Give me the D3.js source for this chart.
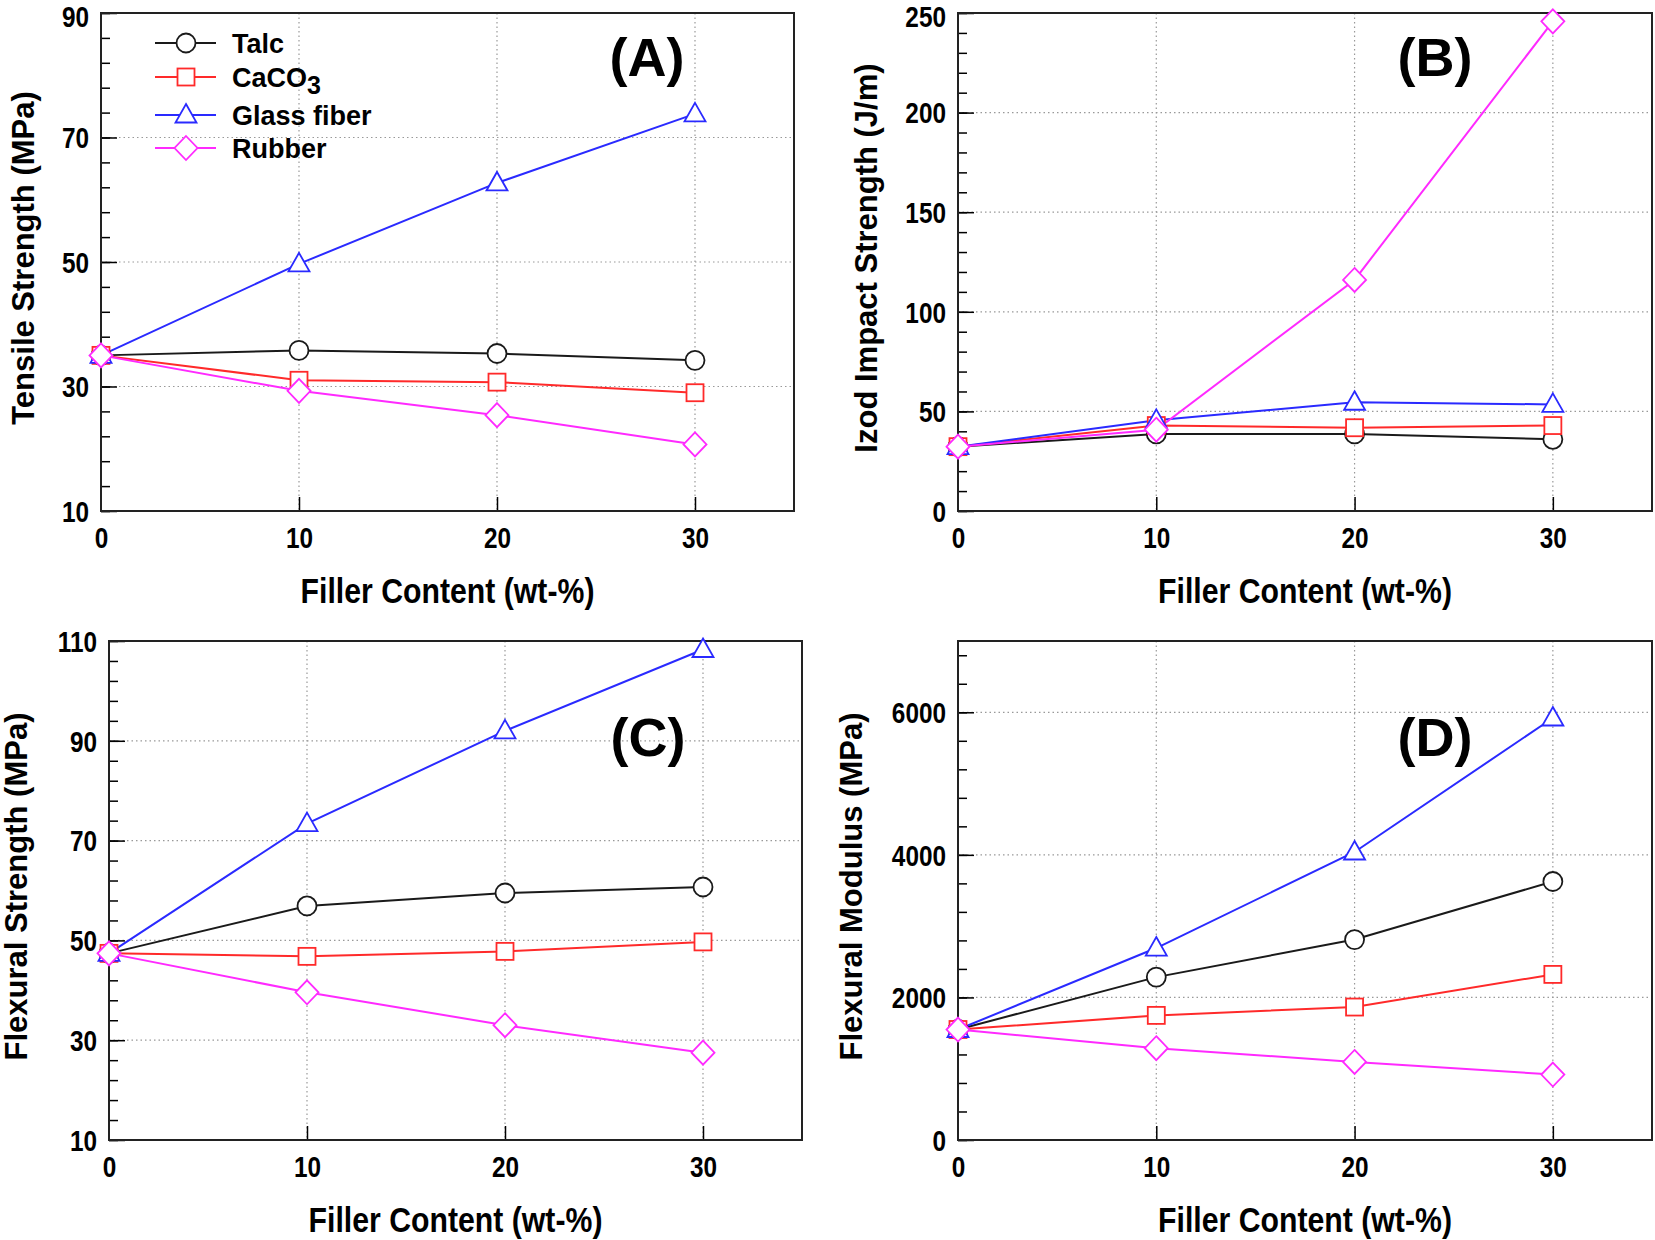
<!DOCTYPE html>
<html><head><meta charset="utf-8">
<script src="https://cdn.jsdelivr.net/npm/d3@7"></script>
<style>
body{margin:0;background:#fff;}
svg{display:block;}
.tick text{font-family:"Liberation Sans",Arial,sans-serif;font-weight:bold;}
</style></head>
<body>
<svg id="chart" width="1655" height="1240"></svg>
<script>
const fillerContent = [0, 10, 20, 30];
const seriesNames = ["Talc", "CaCO3", "Glass fiber", "Rubber"];

// (A) Tensile strength (MPa)
const tensileTalc   = [35.0, 35.8, 35.3, 34.2];
const tensileCaCO3  = [35.0, 31.0, 30.7, 29.0];
const tensileGlass  = [35.0, 49.7, 62.7, 73.8];
const tensileRubber = [35.0, 29.3, 25.4, 20.7];

// (B) Izod impact strength (J/m)
const izodTalc   = [32.3, 38.7, 38.7, 36.0];
const izodCaCO3  = [32.3, 42.9, 41.8, 42.9];
const izodGlass  = [32.3, 45.5, 54.6, 53.5];
const izodRubber = [32.3, 40.8, 116.0, 245.8];

// (C) Flexural strength (MPa)
const flexStrTalc   = [47.4, 56.9, 59.5, 60.7];
const flexStrCaCO3  = [47.4, 46.8, 47.8, 49.7];
const flexStrGlass  = [47.4, 73.4, 92.0, 108.3];
const flexStrRubber = [47.4, 39.6, 33.0, 27.5];

// (D) Flexural modulus (MPa)
const flexModTalc   = [1550, 2285, 2812, 3626];
const flexModCaCO3  = [1550, 1748, 1865, 2323];
const flexModGlass  = [1550, 2693, 4040, 5920];
const flexModRubber = [1550, 1288, 1095, 918];

const xTicks = [0, 10, 20, 30];
const yTicksA = [10, 30, 50, 70, 90];
const yTicksB = [0, 50, 100, 150, 200, 250];
const yTicksC = [10, 30, 50, 70, 90, 110];
const yTicksD = [0, 2000, 4000, 6000];

const colors = ["#1a1a1a", "#ff2a2a", "#2a2aff", "#ff2aff"];
const symbols = ["circle", "square", "triangle", "diamond"];

const svg = d3.select("#chart");
const narrow = 0.84;

const panels = [
  {label:"(A)", title:"Tensile Strength (MPa)", left:101, top:13, w:693, h:498,
   yDom:[10,90], yTicks:yTicksA, minor:4, data:[tensileTalc,tensileCaCO3,tensileGlass,tensileRubber], legend:true,
   labX:647, labY:76, titleX:23},
  {label:"(B)", title:"Izod Impact Strength (J/m)", left:958, top:13, w:694, h:498,
   yDom:[0,250], yTicks:yTicksB, minor:10, data:[izodTalc,izodCaCO3,izodGlass,izodRubber],
   labX:1435, labY:76, titleX:866},
  {label:"(C)", title:"Flexural Strength (MPa)", left:109, top:641, w:693, h:499,
   yDom:[10,110], yTicks:yTicksC, minor:4, data:[flexStrTalc,flexStrCaCO3,flexStrGlass,flexStrRubber],
   labX:648, labY:756, titleX:16},
  {label:"(D)", title:"Flexural Modulus (MPa)", left:958, top:641, w:694, h:499,
   yDom:[0,7000], yTicks:yTicksD, minor:400, data:[flexModTalc,flexModCaCO3,flexModGlass,flexModRubber],
   labX:1435, labY:756, titleX:851}
];

function drawMarker(g, type, cx, cy, color) {
  let el;
  if (type === "circle") {
    el = g.append("circle").attr("cx", cx).attr("cy", cy).attr("r", 9.5);
  } else if (type === "square") {
    el = g.append("rect").attr("x", cx-8.5).attr("y", cy-8.5).attr("width", 17).attr("height", 17);
  } else if (type === "triangle") {
    el = g.append("path").attr("d", `M${cx},${cy-11}L${cx+10.5},${cy+7.5}L${cx-10.5},${cy+7.5}Z`);
  } else {
    el = g.append("path").attr("d", `M${cx},${cy-12}L${cx+11.5},${cy}L${cx},${cy+12}L${cx-11.5},${cy}Z`);
  }
  el.attr("fill", "#fff").attr("stroke", color).attr("stroke-width", 1.8);
}

panels.forEach(p => {
  const x = d3.scaleLinear().domain([0, 35]).range([p.left, p.left + p.w]);
  const y = d3.scaleLinear().domain(p.yDom).range([p.top + p.h, p.top]);
  const g = svg.append("g");

  // grid
  g.selectAll(".gx").data(xTicks.filter(d => d > 0)).join("line")
    .attr("x1", d => x(d)).attr("x2", d => x(d)).attr("y1", p.top).attr("y2", p.top + p.h)
    .attr("stroke", "#999").attr("stroke-width", 1.2).attr("stroke-dasharray", "1.5,3");
  g.selectAll(".gy").data(p.yTicks.filter(d => d > p.yDom[0] && d < p.yDom[1])).join("line")
    .attr("x1", p.left).attr("x2", p.left + p.w).attr("y1", d => y(d)).attr("y2", d => y(d))
    .attr("stroke", "#999").attr("stroke-width", 1.2).attr("stroke-dasharray", "1.5,3");

  // minor y ticks
  const minorTicks = d3.range(p.yDom[0], p.yDom[1] + 1e-9, p.minor);
  g.append("g").attr("transform", `translate(${p.left},0)`)
    .call(d3.axisRight(y).tickValues(minorTicks).tickSize(9).tickFormat(""))
    .call(s => s.select(".domain").remove())
    .call(s => s.selectAll("line").attr("stroke", "#000").attr("stroke-width", 1.5));

  // major y axis
  g.append("g").attr("transform", `translate(${p.left},0)`)
    .call(d3.axisLeft(y).tickValues(p.yTicks).tickSize(0).tickPadding(0).tickFormat(d3.format("d")))
    .call(s => s.select(".domain").remove())
    .call(s => s.selectAll("text").attr("font-size", 29).attr("fill", "#000")
      .attr("x", 0).attr("transform", d => `translate(-12,${y(d) < 30 ? 4 : 1}) scale(${narrow},1)`));
  g.append("g").attr("transform", `translate(${p.left},0)`)
    .call(d3.axisRight(y).tickValues(p.yTicks).tickSize(16).tickFormat(""))
    .call(s => s.select(".domain").remove())
    .call(s => s.selectAll("line").attr("stroke", "#000").attr("stroke-width", 1.5));

  // x axis
  g.append("g").attr("transform", `translate(0,${p.top + p.h})`)
    .call(d3.axisBottom(x).tickValues(xTicks).tickSize(0).tickPadding(16).tickFormat(d3.format("d")))
    .call(s => s.select(".domain").remove())
    .call(s => s.selectAll("text").attr("font-size", 29).attr("fill", "#000")
      .attr("transform", `scale(${narrow},1)`));
  g.append("g").attr("transform", `translate(0,${p.top + p.h})`)
    .call(d3.axisTop(x).tickValues(xTicks.filter(d => d > 0)).tickSize(14).tickFormat(""))
    .call(s => s.select(".domain").remove())
    .call(s => s.selectAll("line").attr("stroke", "#000").attr("stroke-width", 1.5));

  // frame
  g.append("rect").attr("x", p.left).attr("y", p.top).attr("width", p.w).attr("height", p.h)
    .attr("fill", "none").attr("stroke", "#222").attr("stroke-width", 2);

  // series
  const line = d3.line().x((d, i) => x(fillerContent[i])).y(d => y(d));
  p.data.forEach((vals, si) => {
    g.append("path").datum(vals).attr("d", line).attr("fill", "none")
      .attr("stroke", colors[si]).attr("stroke-width", 2);
  });
  p.data.forEach((vals, si) => {
    vals.forEach((v, i) => drawMarker(g, symbols[si], x(fillerContent[i]), y(v), colors[si]));
  });

  // panel label
  g.append("text").attr("x", p.labX).attr("y", p.labY).attr("text-anchor", "middle")
    .attr("font-family", "Liberation Sans, Arial, sans-serif").attr("font-weight", "bold")
    .attr("font-size", 54).text(p.label);

  // x title
  g.append("text")
    .attr("transform", `translate(${x(17.5)},${p.top + p.h + 92}) scale(${narrow},1)`)
    .attr("text-anchor", "middle")
    .attr("font-family", "Liberation Sans, Arial, sans-serif").attr("font-weight", "bold")
    .attr("font-size", 36).text("Filler Content (wt-%)");

  // y title
  g.append("text")
    .attr("transform", `translate(${p.titleX + 11},${p.top + p.h / 2 - 4}) rotate(-90)`)
    .attr("text-anchor", "middle")
    .attr("font-family", "Liberation Sans, Arial, sans-serif").attr("font-weight", "bold")
    .attr("font-size", 31).text(p.title);

  if (p.legend) {
    const lg = g.append("g");
    const rowsY = [43, 77, 115, 148];
    seriesNames.forEach((name, si) => {
      const ly = rowsY[si];
      lg.append("line").attr("x1", 155).attr("x2", 216).attr("y1", ly).attr("y2", ly)
        .attr("stroke", colors[si]).attr("stroke-width", 2);
      drawMarker(lg, symbols[si], 186, ly, colors[si]);
      const t = lg.append("text").attr("x", 232).attr("y", ly + 10)
        .attr("font-family", "Liberation Sans, Arial, sans-serif").attr("font-weight", "bold")
        .attr("font-size", 27).attr("fill", "#000");
      if (name === "CaCO3") {
        t.append("tspan").text("CaCO");
        t.append("tspan").attr("dy", 7).attr("font-size", 25).text("3");
      } else {
        t.text(name);
      }
    });
  }
});
</script>
</body></html>
